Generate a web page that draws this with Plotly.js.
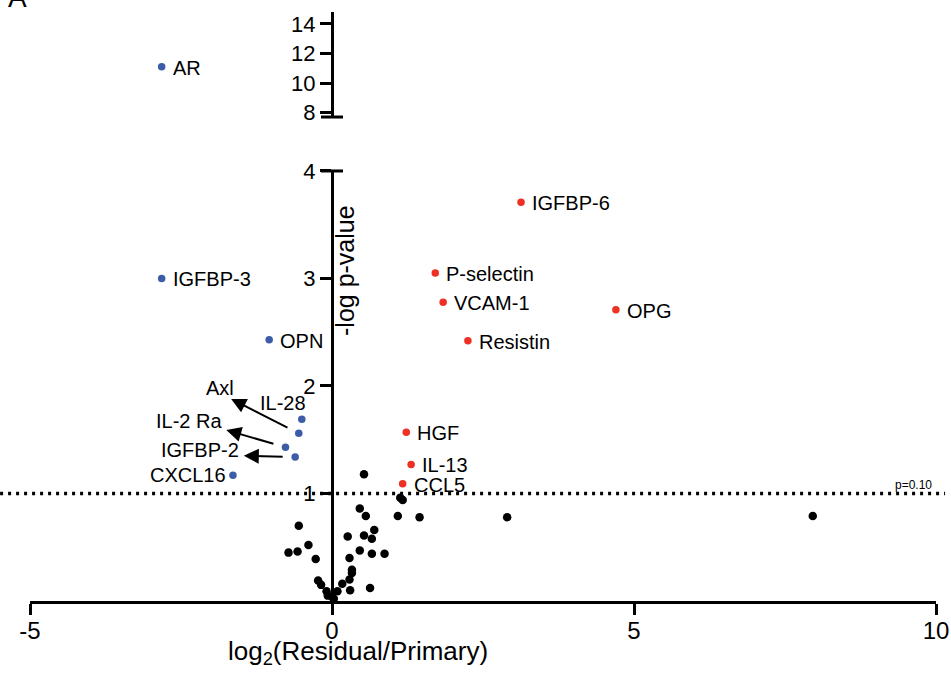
<!DOCTYPE html>
<html><head><meta charset="utf-8">
<script src="https://cdn.plot.ly/plotly-3.0.1.min.js"></script>
<style>html,body{margin:0;padding:0;background:#fff}#chart{width:951px;height:675px}</style>
</head><body><div id="chart"></div>
<script>
// Up-regulated (significant, red)
const upNames = ['IGFBP-6','P-selectin','VCAM-1','OPG','Resistin','HGF','IL-13','CCL5'];
const upX = [3.13, 1.71, 1.84, 4.70, 2.25, 1.23, 1.31, 1.17];
const upY = [3.71, 3.05, 2.78, 2.71, 2.42, 1.57, 1.27, 1.09];

// Down-regulated (significant, blue) on lower axis segment
const downNames = ['IGFBP-3','OPN','IL-28','Axl','IL-2 Ra','IGFBP-2','CXCL16'];
const downX = [-2.82, -1.04, -0.50, -0.55, -0.77, -0.61, -1.64];
const downY = [3.00, 2.43, 1.69, 1.56, 1.43, 1.34, 1.17];

// Down-regulated on upper axis segment
const highNames = ['AR'];
const highX = [-2.82];
const highY = [11.1];

// Not significant (black)
const nsX = [-0.55,-0.39,-0.57,-0.72,-0.27,-0.23,-0.18,-0.09,0.00,0.09,0.17,0.26,0.29,0.33,0.33,0.29,0.30,0.46,0.46,0.53,0.56,1.13,1.17,1.09,1.45,0.70,0.53,0.66,0.66,0.87,0.63,2.90,7.96,0.03,-0.07];
const nsY = [0.70,0.52,0.46,0.45,0.39,0.19,0.15,0.09,0.04,0.09,0.16,0.60,0.40,0.29,0.26,0.20,0.10,0.86,0.47,1.18,0.79,0.96,0.94,0.79,0.78,0.66,0.61,0.58,0.44,0.44,0.12,0.78,0.79,0.02,0.05];

// Arrow-labelled proteins and where their arrows point
const arrowNames = ['Axl','IL-2 Ra','IGFBP-2'];
const arrowTipX = [-1.67, -1.75, -1.46];
const arrowTipY = [1.88, 1.59, 1.35];

// Axis ticks
const xTicks = [-5, 0, 5, 10];
const xTickText = ['-5', '0', '5', '10'];
const yLowTicks = [1, 2, 3, 4];
const yHighTicks = [8, 10, 12, 14];
const threshold = 1;
const thresholdLabel = 'p=0.10';

const BLUE = '#3d5ca8', RED = '#ee3124';
const SANS = 'Liberation Sans, Arial, sans-serif';
const labelFont = {family:SANS, size:20, color:'#000'};
const tickFontY = {family:SANS, size:22, color:'#000'};

const traces = [
  {x:nsX, y:nsY, type:'scatter', mode:'markers', xaxis:'x', yaxis:'y', cliponaxis:false,
   marker:{color:'#000', size:8.5}, hoverinfo:'skip'},
  {x:downX, y:downY, text:downNames, type:'scatter', mode:'markers', xaxis:'x', yaxis:'y', cliponaxis:false,
   marker:{color:BLUE, size:7.5}},
  {x:upX, y:upY, text:upNames, type:'scatter', mode:'markers', xaxis:'x', yaxis:'y', cliponaxis:false,
   marker:{color:RED, size:7.5}},
  {x:highX, y:highY, text:highNames, type:'scatter', mode:'markers', xaxis:'x', yaxis:'y2', cliponaxis:false,
   marker:{color:BLUE, size:7.5}}
];

const annotations = [];
function rightLabel(x, y, t, yref){
  annotations.push({x:x, y:y, xref:'x', yref:yref, text:t, showarrow:false,
    xanchor:'left', yanchor:'middle', xshift:9, yshift:-1, font:labelFont});
}
upNames.forEach((n,i)=>rightLabel(upX[i], upY[i], n, 'y'));
highNames.forEach((n,i)=>rightLabel(highX[i], highY[i], n, 'y2'));
downNames.forEach((n,i)=>{
  const ai = arrowNames.indexOf(n);
  if (n === 'IL-28') {
    annotations.push({x:downX[i], y:downY[i], xref:'x', yref:'y', text:n, showarrow:false,
      xanchor:'center', yanchor:'middle', xshift:-19, yshift:16, font:labelFont});
  } else if (n === 'CXCL16') {
    annotations.push({x:downX[i], y:downY[i], xref:'x', yref:'y', text:n, showarrow:false,
      xanchor:'right', yanchor:'middle', xshift:-5, yshift:0, font:labelFont});
  } else if (ai >= 0) {
    // arrow from point toward label
    annotations.push({x:arrowTipX[ai], y:arrowTipY[ai], xref:'x', yref:'y',
      ax:downX[i], ay:downY[i], axref:'x', ayref:'y', text:'', showarrow:true,
      arrowhead:2, arrowsize:1.5, arrowwidth:2, arrowcolor:'#000', startstandoff:11});
    const lab = n === 'Axl' ? {xa:'center', xs:-11, ys:11}
              : n === 'IL-2 Ra' ? {xa:'right', xs:-2, ys:9}
              : {xa:'right', xs:-3, ys:6};
    annotations.push({x:arrowTipX[ai], y:arrowTipY[ai], xref:'x', yref:'y', text:n, showarrow:false,
      xanchor:lab.xa, yanchor:'middle', xshift:lab.xs, yshift:lab.ys, font:labelFont});
  } else {
    rightLabel(downX[i], downY[i], n, 'y');
  }
});

// threshold label
annotations.push({x:1, y:threshold, xref:'paper', yref:'y', text:thresholdLabel, showarrow:false,
  xanchor:'right', yanchor:'bottom', xshift:-2, yshift:-1,
  font:{family:SANS, size:12, color:'#000'}});
// axis titles
annotations.push({x:0.362, y:-0.087, xref:'paper', yref:'paper', text:'log<sub>2</sub>(Residual/Primary)',
  showarrow:false, xanchor:'center', yanchor:'middle', font:{family:SANS, size:26, color:'#000'}});
annotations.push({x:0.3477, y:0.5603, xref:'paper', yref:'paper', text:'-log p-value', textangle:-90,
  showarrow:false, xanchor:'center', yanchor:'middle', font:{family:SANS, size:25, color:'#000'}});
// panel letter (cut off at top edge, as in the reference)
annotations.push({x:-0.014, y:1.0, xref:'paper', yref:'paper', text:'A', showarrow:false,
  xanchor:'center', yanchor:'bottom', yshift:-3, font:{family:SANS, size:28, color:'#000'}});

const shapes = [
  {type:'line', xref:'paper', x0:-0.033, x1:1.01, yref:'y', y0:threshold, y1:threshold,
   line:{color:'#000', width:3.5, dash:'3px,5px'}},
  {type:'line', xref:'x', xsizemode:'pixel', xanchor:0, x0:-11, x1:11, yref:'y domain', y0:1, y1:1,
   line:{color:'#000', width:3}},
  {type:'line', xref:'x', xsizemode:'pixel', xanchor:0, x0:-11, x1:11, yref:'y2 domain', y0:0, y1:0,
   line:{color:'#000', width:3}}
];

const axisCommon = {showline:true, linewidth:3, linecolor:'#000', ticks:'outside', tickwidth:3,
  tickcolor:'#000', showgrid:false, zeroline:false};

const layout = {
  width:951, height:675, margin:{l:30, r:15, t:12, b:74},
  paper_bgcolor:'#fff', plot_bgcolor:'rgba(0,0,0,0)', showlegend:false,
  xaxis:Object.assign({}, axisCommon, {range:[-5,10], tickvals:xTicks, ticktext:xTickText, ticklen:11, anchor:'y',
    ticklabelstandoff:-5, tickfont:{family:SANS, size:24, color:'#000'}}),
  yaxis:Object.assign({}, axisCommon, {domain:[0,0.7301], range:[0,4], tickvals:yLowTicks, ticklen:11,
    anchor:'free', position:1/3, tickfont:tickFontY}),
  yaxis2:Object.assign({}, axisCommon, {domain:[0.8217,1], range:[7.695,14.81], tickvals:yHighTicks, ticklen:11,
    anchor:'free', position:1/3, tickfont:tickFontY}),
  annotations:annotations, shapes:shapes
};

Plotly.newPlot('chart', traces, layout, {displayModeBar:false, staticPlot:true});
</script></body></html>
